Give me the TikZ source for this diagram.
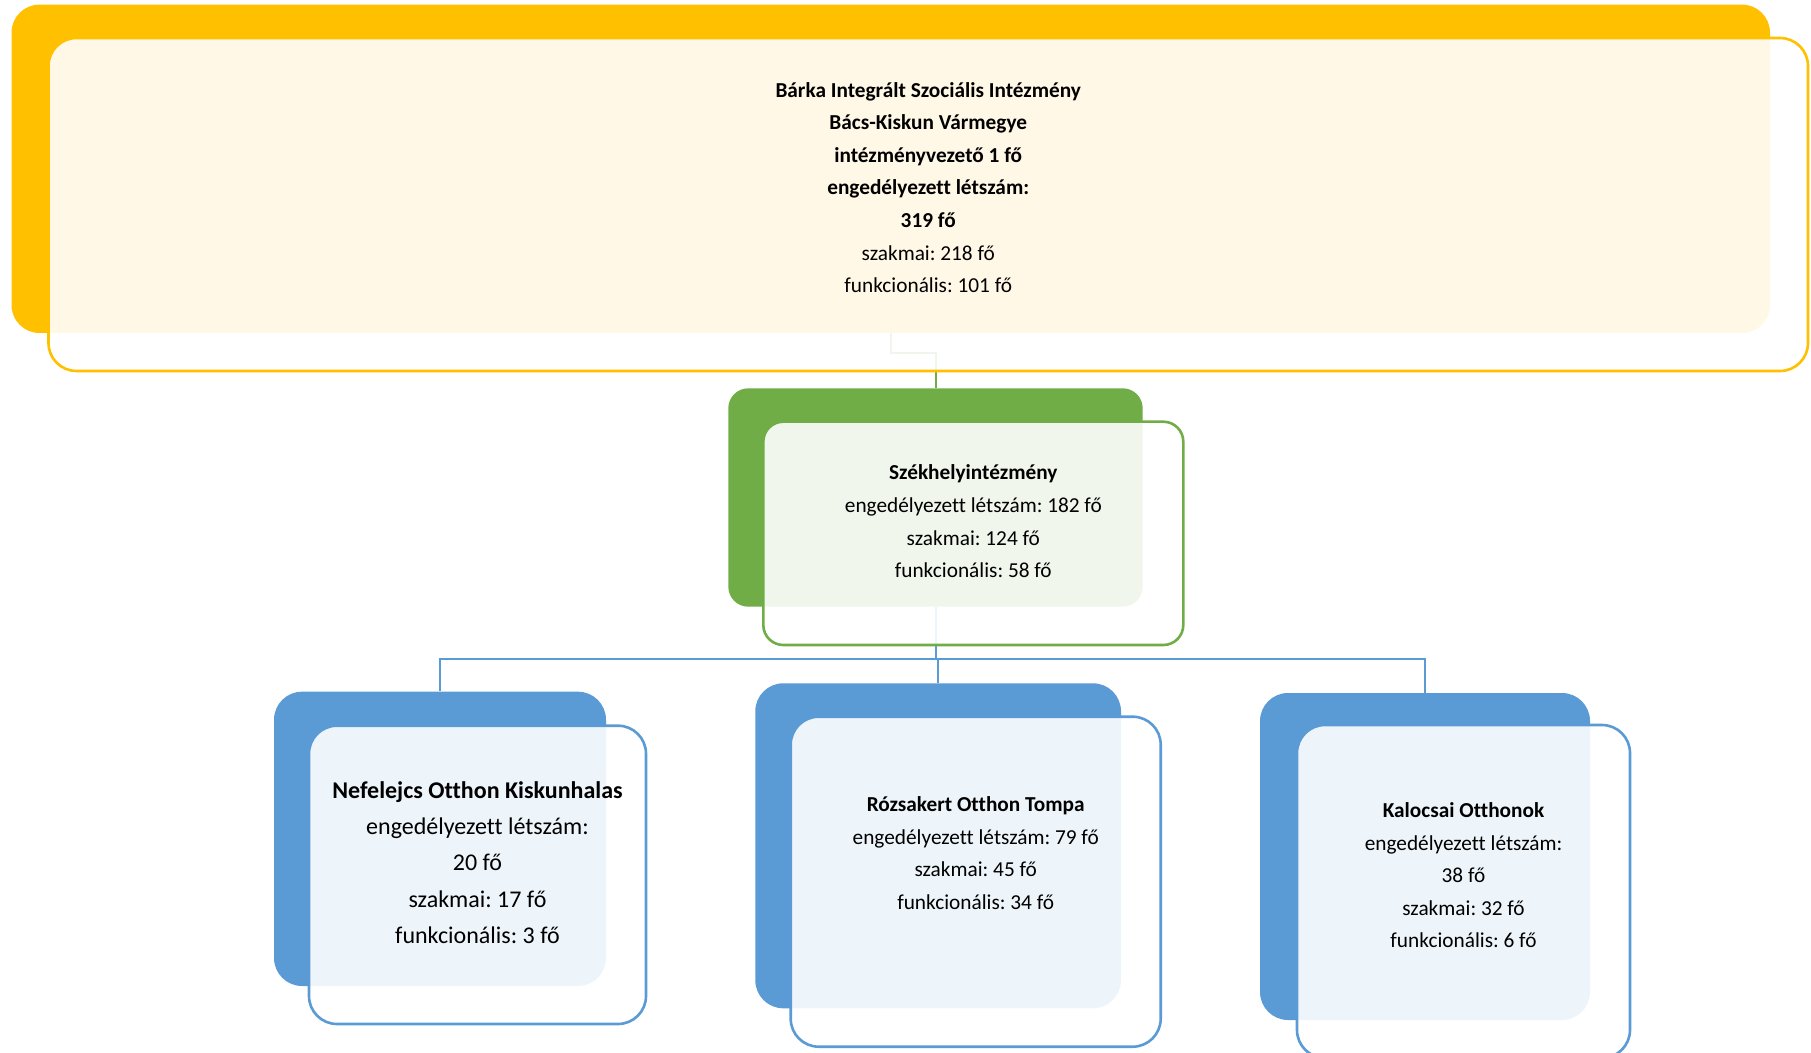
\documentclass[tikz,border=0pt]{standalone}
\usepackage{fontspec}
\setmainfont{Carlito}[Ligatures=NoCommon]
\frenchspacing
\definecolor{barkaYellow}{RGB}{255,192,0}
\definecolor{barkaGreen}{RGB}{112,173,71}
\definecolor{barkaBlue}{RGB}{91,155,213}

\begin{document}
\begin{tikzpicture}[x=0.5pt, y=-0.5pt,
    back/.style={rounded corners=14pt, inner sep=0pt, draw=none},
    front/.style={rounded corners=14pt, inner sep=0pt, line width=1.3pt, fill=white, fill opacity=0.9},
    txt/.style={align=center, inner sep=0pt, font=\fontsize{10.65}{16.3}\selectfont},
    link/.style={line width=1pt}]
        \fill[white] (0,0) rectangle (1811,1053);
        \useasboundingbox (0,0) rectangle (1811,1053);

        % Back boxes
        \node[back, fill=barkaYellow, minimum width=879.25pt, minimum height=164.2pt] (topback) at (890.75,168.8) {};
        \node[back, rounded corners=10pt, fill=barkaGreen, minimum width=207.2pt, minimum height=109.2pt] (gback) at (935.5,497.5) {};
        \node[back, fill=barkaBlue, minimum width=166pt, minimum height=147.15pt] (lback) at (440,838.85) {};
        \node[back, fill=barkaBlue, minimum width=182.85pt, minimum height=162.5pt] (mback) at (938.15,845.8) {};
        \node[back, fill=barkaBlue, minimum width=165pt, minimum height=163.5pt] (rback) at (1425,856.5) {};

        % Connectors
        \draw[link, barkaGreen] (topback.south) -- ++(0,20) -| (gback.north);
        \draw[link, barkaBlue] (gback.south) -- ++(0,51.5) -| (lback.north);
        \draw[link, barkaBlue] (gback.south) -- ++(0,51.5) -| (mback.north);
        \draw[link, barkaBlue] (gback.south) -- ++(0,51.5) -| (rback.north);

        % Front boxes
        \node[front, draw=barkaYellow, minimum width=879.75pt, minimum height=166.5pt] (topfront) at (928.25,204.5) {};
        \node[front, rounded corners=10pt, draw=barkaGreen, minimum width=210pt, minimum height=111.65pt] (gfront) at (973.3,533.35) {};
        \node[front, draw=barkaBlue, minimum width=168.5pt, minimum height=149.15pt] (lfront) at (477.5,874.85) {};
        \node[front, draw=barkaBlue, minimum width=185pt, minimum height=165pt] (mfront) at (975.7,881.7) {};
        \node[front, draw=barkaBlue, minimum width=166.5pt, minimum height=166.5pt] (rfront) at (1463.5,891.5) {};

        % Texts
        \node[txt] (toptext) at (928.25,187.5) {\textbf{Bárka Integrált Szociális Intézmény}\\
            \textbf{Bács-Kiskun Vármegye}\\ \textbf{intézményvezető 1 fő}\\
            \textbf{engedélyezett létszám:}\\ \textbf{319 fő}\\
            szakmai: 218 fő\\ funkcionális: 101 fő};
        \node[txt] (gtext) at (973.3,521.5) {\textbf{Székhelyintézmény}\\
            engedélyezett létszám: 182 fő\\ szakmai: 124 fő\\ funkcionális: 58 fő};
        \node[txt, font=\fontsize{12}{18.2}\selectfont] (ltext) at (477.5,862.5) {\textbf{Nefelejcs Otthon Kiskunhalas}\\
            engedélyezett létszám:\\ 20 fő\\ szakmai: 17 fő\\ funkcionális: 3 fő};
        \node[txt] (mtext) at (975.7,853.3) {\textbf{Rózsakert Otthon Tompa}\\
            engedélyezett létszám: 79 fő\\ szakmai: 45 fő\\ funkcionális: 34 fő};
        \node[txt] (rtext) at (1463.5,875.3) {\textbf{Kalocsai Otthonok}\\
            engedélyezett létszám:\\ 38 fő\\ szakmai: 32 fő\\ funkcionális: 6 fő};
      \end{tikzpicture}
\end{document}
